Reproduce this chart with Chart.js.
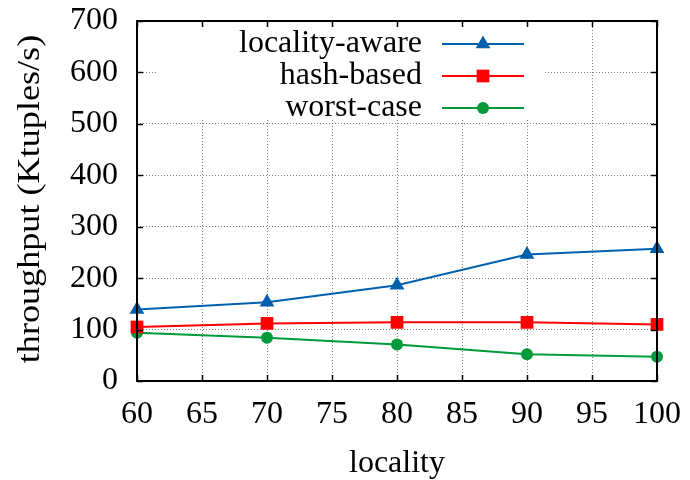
<!DOCTYPE html>
<html>
<head>
<meta charset="utf-8">
<script src="https://cdn.jsdelivr.net/npm/chart.js@4/dist/chart.umd.min.js"></script>
<style>
  html, body { margin: 0; padding: 0; background: #ffffff; }
  #wrap { width: 690px; height: 480px; }
</style>
</head>
<body>
<div id="wrap"><canvas id="c" width="690" height="480"></canvas></div>
<script>
// Throughput vs. locality for three partitioning strategies
const localities = [60, 70, 80, 90, 100];
const localityAware = [139, 153, 186, 246, 257];
const hashBased = [105, 112, 114, 114, 110];
const worstCase = [94, 84, 71, 52, 47];

const xTicks = [60, 65, 70, 75, 80, 85, 90, 95, 100];
const yTicks = [0, 100, 200, 300, 400, 500, 600, 700];

const xTitle = 'locality';
const yTitle = 'throughput (Ktuples/s)';

const FONT = '"Liberation Serif", "Times New Roman", serif';
const FSIZE = 32;

const toPoints = vals => localities.map((x, i) => ({ x: x, y: vals[i] }));

// gnuplot-like frame: white key box, full border with inward ticks, key, axis titles
const framePlugin = {
  id: 'frame',
  beforeDatasetsDraw(chart) {
    const { ctx, chartArea: a } = chart;
    ctx.save();
    ctx.fillStyle = '#ffffff';
    ctx.fillRect(157, a.top + 1, 386, 97);
    ctx.restore();
  },
  afterDatasetsDraw(chart) {
    const { ctx, chartArea: a, scales } = chart;
    const xs = scales.x, ys = scales.y;
    ctx.save();
    ctx.strokeStyle = '#000000';
    ctx.lineWidth = 1.5;
    ctx.beginPath();
    const tl = 6;
    xTicks.forEach(v => {
      const px = Math.round(xs.getPixelForValue(v)) + 0.5;
      ctx.moveTo(px, a.bottom); ctx.lineTo(px, a.bottom - tl);
      ctx.moveTo(px, a.top); ctx.lineTo(px, a.top + tl);
    });
    yTicks.forEach(v => {
      const py = Math.round(ys.getPixelForValue(v)) + 0.5;
      ctx.moveTo(a.left, py); ctx.lineTo(a.left + tl, py);
      ctx.moveTo(a.right, py); ctx.lineTo(a.right - tl, py);
    });
    ctx.stroke();
    ctx.lineWidth = 2;
    ctx.strokeRect(a.left, a.top, a.right - a.left, a.bottom - a.top);

    // key
    ctx.font = FSIZE + 'px ' + FONT;
    ctx.textAlign = 'right';
    ctx.textBaseline = 'middle';
    chart.data.datasets.forEach((ds, i) => {
      const y = 44 + i * 32;
      ctx.fillStyle = '#000000';
      ctx.fillText(ds.label, 422, y);
      ctx.strokeStyle = ds.borderColor;
      ctx.lineWidth = ds.borderWidth;
      ctx.beginPath();
      ctx.moveTo(442, y); ctx.lineTo(524, y);
      ctx.stroke();
      ctx.fillStyle = ds.pointBackgroundColor;
      ctx.strokeStyle = ds.pointBackgroundColor;
      Chart.helpers.drawPoint(ctx, {
        pointStyle: ds.pointStyle, radius: ds.pointRadius, rotation: 0, borderWidth: 0
      }, 483, y);
    });

    // axis titles
    ctx.fillStyle = '#000000';
    ctx.textAlign = 'center';
    ctx.textBaseline = 'alphabetic';
    ctx.fillText(xTitle, (a.left + a.right) / 2, 472);
    ctx.translate(39, (a.top + a.bottom) / 2 - 2);
    ctx.rotate(-Math.PI / 2);
    ctx.scale(1.13, 1);
    ctx.fillText(yTitle, 0, 0);
    ctx.restore();
  }
};

const mkSet = (label, vals, color, style, r) => ({
  label: label,
  data: toPoints(vals),
  borderColor: color,
  backgroundColor: color,
  pointBackgroundColor: color,
  pointBorderColor: color,
  pointBorderWidth: 0,
  borderWidth: 2,
  pointStyle: style,
  pointRadius: r,
  pointHoverRadius: r,
  tension: 0,
  clip: false
});

new Chart(document.getElementById('c'), {
  type: 'line',
  data: {
    datasets: [
      mkSet('locality-aware', localityAware, '#0060ad', 'triangle', 8.5),
      mkSet('hash-based', hashBased, '#ff0000', 'rect', 9),
      mkSet('worst-case', worstCase, '#009a3a', 'circle', 6)
    ]
  },
  options: {
    responsive: false,
    animation: false,
    events: [],
    layout: { padding: { top: 21, right: 33, left: 0, bottom: 0 } },
    plugins: { legend: { display: false }, tooltip: { enabled: false } },
    scales: {
      x: {
        type: 'linear',
        min: 60, max: 100,
        afterBuildTicks: s => { s.ticks = xTicks.map(v => ({ value: v })); },
        afterFit: s => { s.height = 99; s.paddingLeft = 0; s.paddingRight = 0; },
        ticks: { color: '#000000', font: { family: FONT, size: FSIZE }, padding: 14, maxRotation: 0 },
        grid: { color: '#808080', lineWidth: 1, drawTicks: false },
        border: { display: false, dash: [1, 2] }
      },
      y: {
        min: 0, max: 700,
        afterBuildTicks: s => { s.ticks = yTicks.map(v => ({ value: v })); },
        afterFit: s => { s.width = 137; s.paddingTop = 0; s.paddingBottom = 0; },
        ticks: { color: '#000000', font: { family: FONT, size: FSIZE }, padding: 19 },
        grid: { color: '#808080', lineWidth: 1, drawTicks: false },
        border: { display: false, dash: [1, 2] }
      }
    }
  },
  plugins: [framePlugin]
});
</script>
</body>
</html>
